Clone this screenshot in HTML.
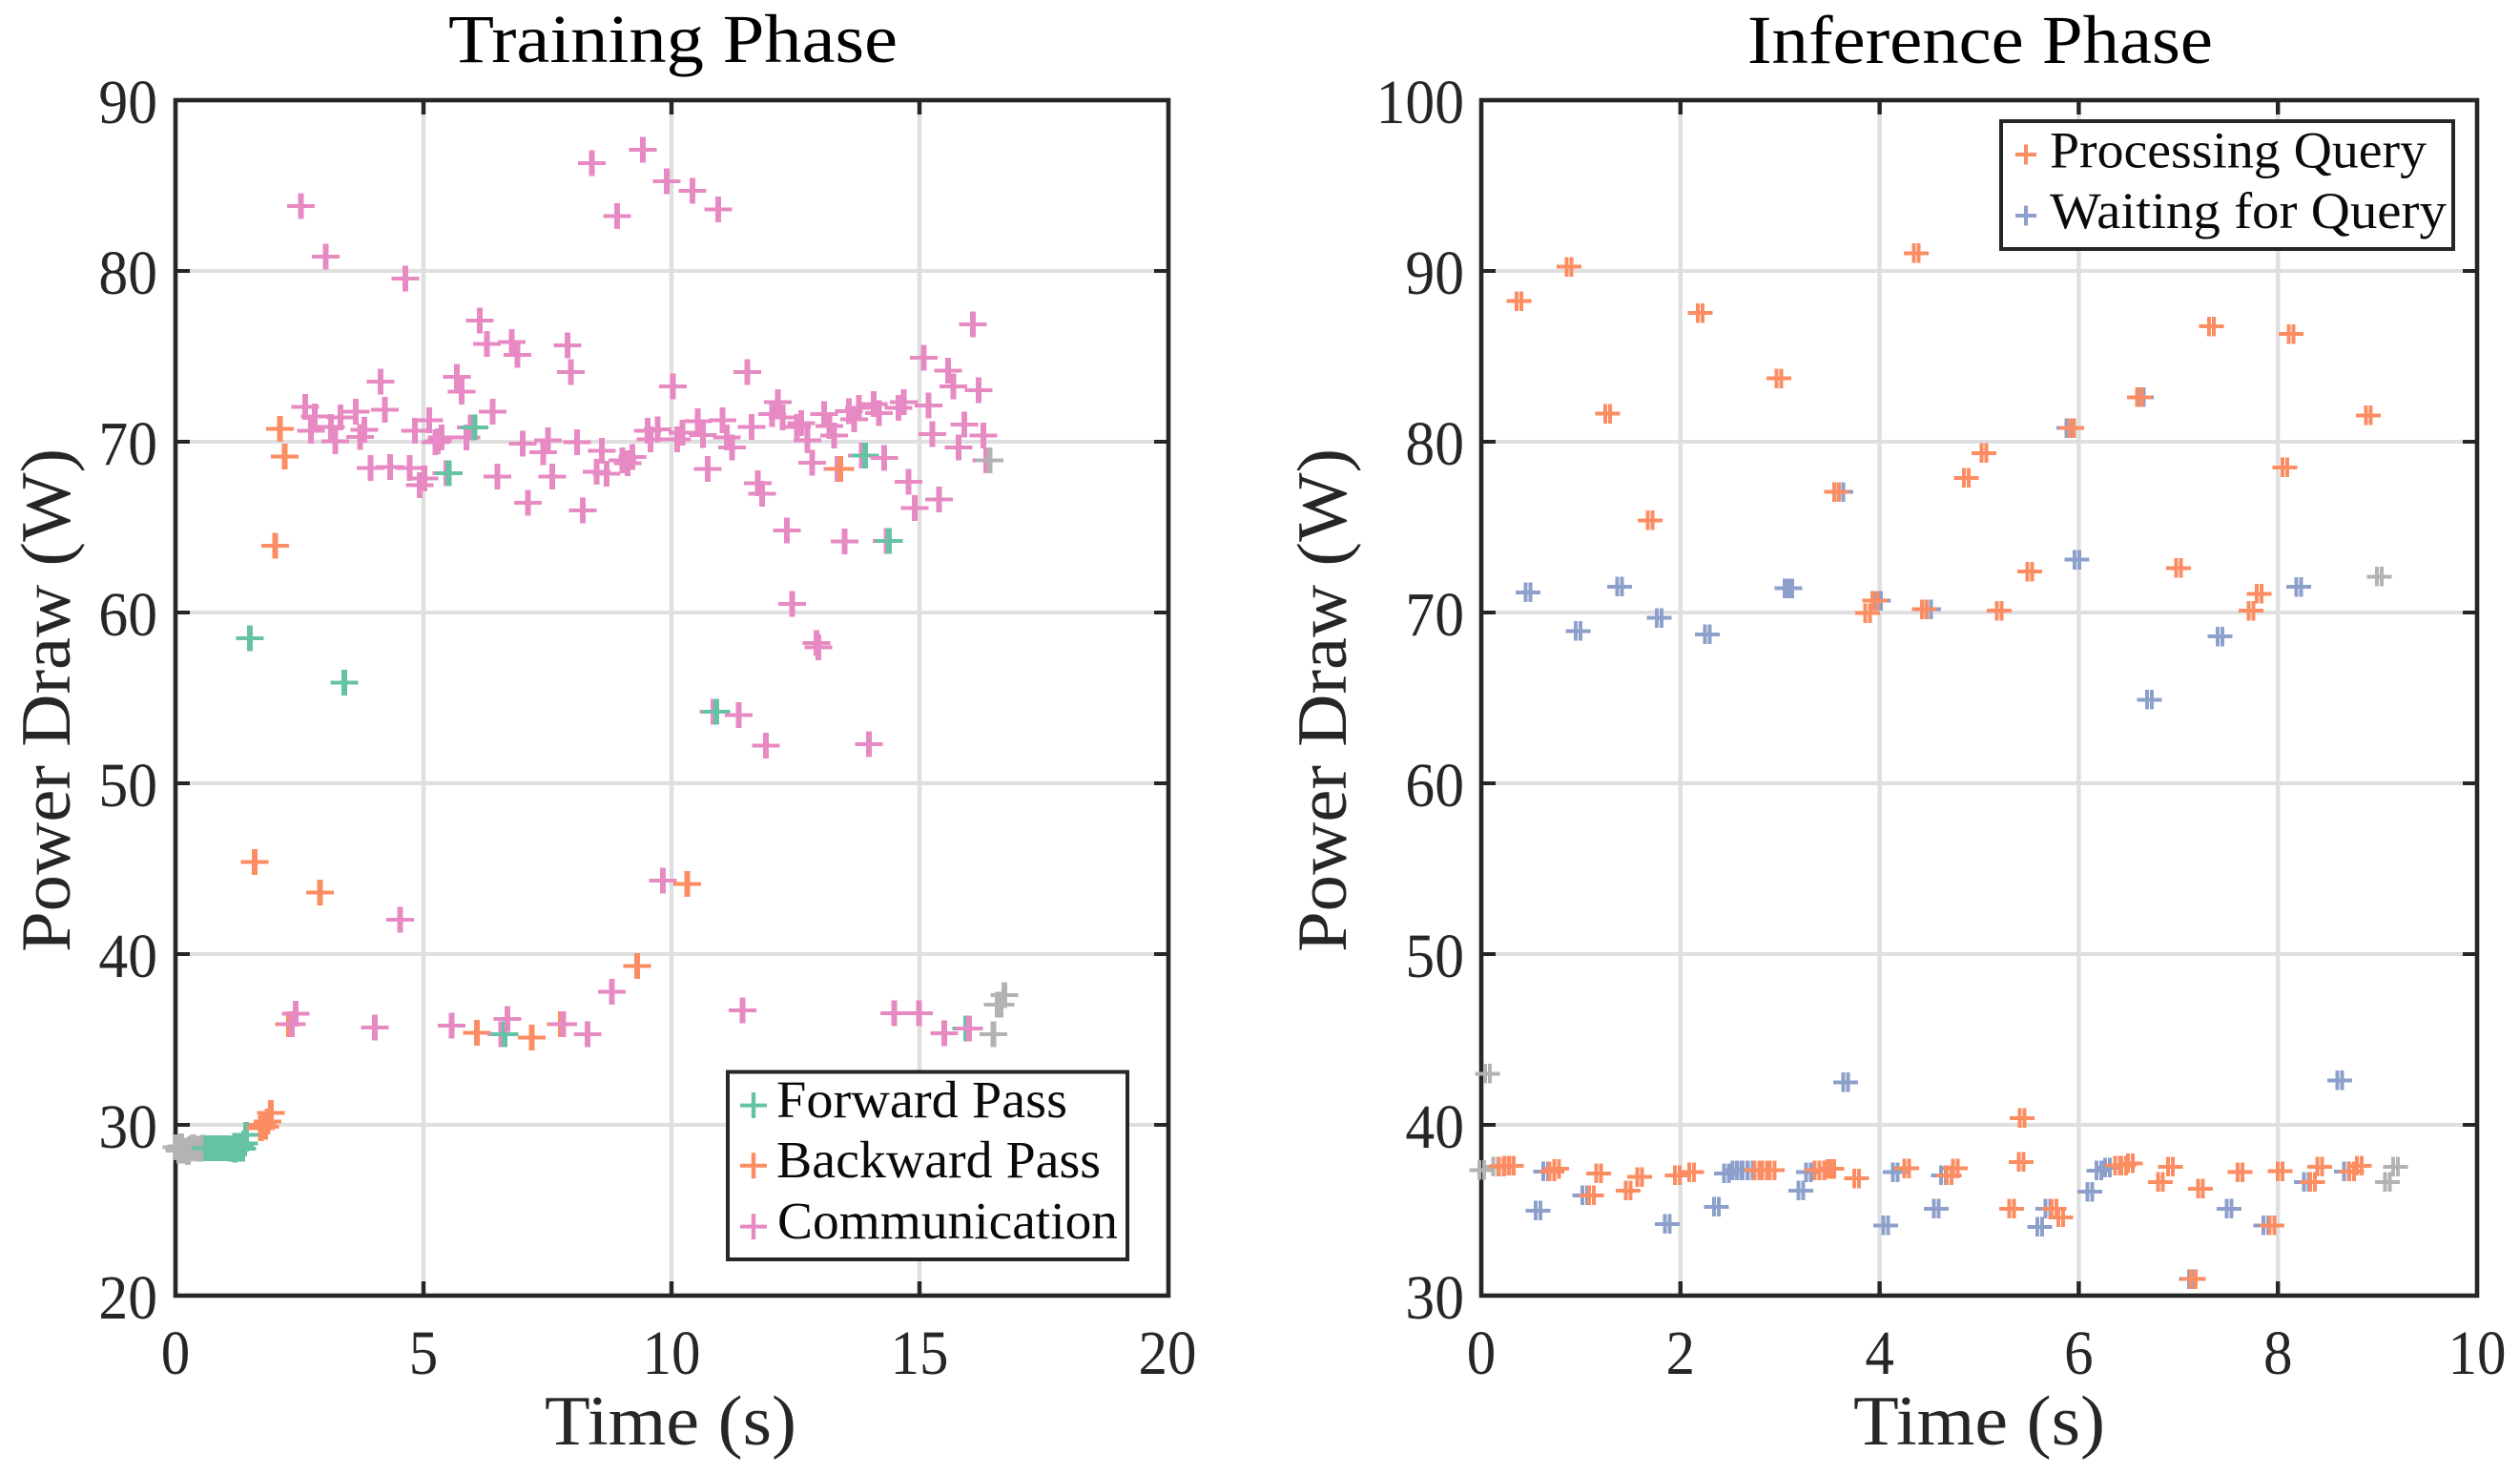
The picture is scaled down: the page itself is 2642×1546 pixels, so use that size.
<!DOCTYPE html>
<html lang="en">
<head>
<meta charset="utf-8">
<title>Power Draw: Training and Inference</title>
<style>
html,body{margin:0;padding:0;background:#fff;}
svg{display:block;}
text{font-family:"Liberation Serif",serif;}
</style>
</head>
<body>
<svg id="fig" xmlns="http://www.w3.org/2000/svg" width="2642" height="1546" viewBox="0 0 2642 1546">
  <rect x="0" y="0" width="2642" height="1546" fill="#fff"/>
  <g id="left-grid"></g>
  <g id="right-grid"></g>
  <rect x="184" y="105" width="1041" height="1253" fill="none" stroke="#262626" stroke-width="4.6"/>
  <rect x="1553" y="105" width="1044" height="1253" fill="none" stroke="#262626" stroke-width="4.6"/>
  <g id="left-ticks"></g>
  <g id="right-ticks"></g>
  <g id="left-marks"></g>
  <g id="right-marks"></g>

  <text x="470" y="65" font-size="72" fill="#000" textLength="471" lengthAdjust="spacingAndGlyphs">Training Phase</text>
  <text x="1832" y="66" font-size="72" fill="#000" textLength="488" lengthAdjust="spacingAndGlyphs">Inference Phase</text>
  <text x="571" y="1514" font-size="74" fill="#262626" textLength="264" lengthAdjust="spacingAndGlyphs">Time (s)</text>
  <text x="1943" y="1514" font-size="74" fill="#262626" textLength="264" lengthAdjust="spacingAndGlyphs">Time (s)</text>
  <text transform="translate(73,998) rotate(-90)" x="0" y="0" font-size="74" fill="#262626" textLength="528" lengthAdjust="spacingAndGlyphs">Power Draw (W)</text>
  <text transform="translate(1411,998) rotate(-90)" x="0" y="0" font-size="74" fill="#262626" textLength="528" lengthAdjust="spacingAndGlyphs">Power Draw (W)</text>

  <g>
    <rect x="763" y="1123.5" width="419" height="196.5" fill="#fff" stroke="#262626" stroke-width="4"/>
    <path fill="#66c2a5" d="M776 1156.6h28v4h-28zM787.8 1145h4.4v27h-4.4z"/>
    <path fill="#fc8d62" d="M776 1219.8h28v4h-28zM787.8 1208.3h4.4v27h-4.4z"/>
    <path fill="#e78ac3" d="M776 1283.6h28v4h-28zM787.8 1272.1h4.4v27h-4.4z"/>
    <text x="814" y="1171" font-size="55" fill="#0a0a0a" textLength="305" lengthAdjust="spacingAndGlyphs">Forward Pass</text>
    <text x="814" y="1234" font-size="55" fill="#0a0a0a" textLength="340" lengthAdjust="spacingAndGlyphs">Backward Pass</text>
    <text x="815" y="1298" font-size="55" fill="#0a0a0a" textLength="357" lengthAdjust="spacingAndGlyphs">Communication</text>
  </g>
  <g>
    <rect x="2098" y="127" width="474" height="134" fill="#fff" stroke="#262626" stroke-width="4"/>
    <path fill="#fc8d62" d="M2113 160h22v4h-22zM2122 151.5h4v21h-4z"/>
    <path fill="#8da0cb" d="M2113 224h22v4h-22zM2122 215.5h4v21h-4z"/>
    <text x="2149" y="175.5" font-size="54" fill="#0a0a0a" textLength="395" lengthAdjust="spacingAndGlyphs">Processing Query</text>
    <text x="2149" y="239" font-size="54" fill="#0a0a0a" textLength="416" lengthAdjust="spacingAndGlyphs">Waiting for Query</text>
  </g>
</svg>
<script>
// Axis tick labels
const trainXTicks = [0, 5, 10, 15, 20];
const trainYTicks = [20, 30, 40, 50, 60, 70, 80, 90];
const inferXTicks = [0, 2, 4, 6, 8, 10];
const inferYTicks = [30, 40, 50, 60, 70, 80, 90, 100];

// Training phase: Forward Pass
const trainForwardT = [0.62,0.68,0.75,0.82,0.88,0.95,1.0,1.05,1.1,1.15,1.2,1.25,1.3,1.35,1.38,1.42,1.5,3.4,5.51,6.03,6.63,10.9,13.9,14.38,15.94];
const trainForwardP = [28.62,28.62,28.62,28.62,28.62,28.62,28.62,28.62,28.6,28.6,28.55,28.6,28.73,28.6,28.9,29.4,58.5,55.9,68.17,70.85,35.3,54.2,69.2,64.2,35.65];

// Training phase: Backward Pass
const trainBackwardT = [1.6,1.72,1.75,1.81,1.86,1.92,2.01,2.11,2.2,2.29,2.91,6.08,7.18,7.77,9.31,10.32,13.4];
const trainBackwardP = [45.4,29.8,30.0,29.9,30.2,30.7,63.9,70.75,69.13,35.9,43.6,35.4,35.1,35.9,39.3,44.1,68.4];

// Training phase: Communication
const trainCommT = [2.53,3.03,4.63,8.39,9.42,8.9,9.9,10.42,10.94,2.62,2.81,2.73,3.13,3.33,3.22,3.63,4.13,4.22,3.81,3.72,3.93,4.33,4.72,4.83,5.12,5.02,4.92,5.29,5.37,5.24,5.67,5.77,5.95,5.87,5.46,6.28,6.78,6.89,6.13,7.9,7.97,6.39,7.0,7.51,7.41,8.1,6.49,7.6,7.11,8.21,8.6,8.49,8.69,9.01,9.21,9.12,9.52,9.72,9.58,10.03,10.12,10.22,10.53,10.63,11.03,11.12,11.22,11.53,11.62,10.73,11.74,11.83,12.14,12.03,12.24,12.62,12.53,12.74,12.84,13.08,13.18,13.28,13.58,13.78,13.68,14.08,14.18,14.68,14.58,15.18,15.09,15.58,15.68,16.19,16.08,15.26,15.9,16.29,15.79,14.29,14.78,14.9,15.39,12.33,13.35,13.84,16.35,13.49,14.34,12.43,12.92,12.96,10.85,11.36,11.9,13.98,4.53,9.83,2.42,2.35,4.02,5.57,6.69,6.57,7.82,8.31,8.8,11.43,14.49,14.99,15.5,16.0];
const trainCommP = [83.8,80.84,79.55,86.3,87.1,83.2,85.25,84.7,83.6,72.03,71.49,70.65,70.86,71.43,70.02,71.75,73.52,71.86,70.69,70.28,68.45,68.51,68.45,70.65,71.25,67.84,67.45,70.02,70.26,69.98,73.8,72.94,70.84,70.24,68.17,75.73,75.83,75.08,77.1,75.64,74.08,71.75,69.9,70.07,69.38,69.96,67.95,67.95,66.42,65.98,69.48,68.25,68.12,68.92,69.1,68.73,70.65,70.74,70.13,73.24,70.13,70.54,71.19,70.39,71.25,70.26,69.66,74.08,70.86,68.4,67.56,66.96,72.31,71.62,71.42,71.1,70.87,70.07,68.77,71.62,70.91,70.35,71.8,71.99,71.3,72.21,71.67,72.31,71.99,72.12,74.91,74.17,73.24,73.03,76.87,70.45,71.0,70.35,69.66,69.05,67.65,66.11,66.61,64.8,68.4,69.2,68.92,64.15,64.2,60.5,58.2,57.95,54.2,54.0,52.2,52.3,42,44.3,36.5,35.9,35.7,35.8,36.2,35.3,35.9,35.3,37.8,36.7,36.55,36.55,35.36,35.65];

// Training phase: other (idle) samples, not in the legend
const trainOtherT = [0.02,0.08,0.12,0.18,0.25,0.3,0.36,0.42,0.5,0.55,16.41,16.49,16.58,16.63,16.71];
const trainOtherP = [28.7,28.5,28.75,28.5,28.4,28.6,28.7,28.6,28.6,28.65,68.92,35.3,37.05,37.05,37.6];

// Inference phase: Processing Query
const inferProcT = [0.88,0.377,4.37,2.2,2.99,1.27,1.695,3.57,5.05,4.87,3.95,3.88,4.45,7.33,8.13,6.61,5.93,8.91,8.07,7.0,5.51,7.73,7.81,5.2,5.43,0.2,0.26,0.3,0.71,0.757,1.18,1.105,1.475,1.59,1.967,2.11,2.77,2.845,2.92,3.37,3.42,3.5,3.52,3.77,4.27,4.70,4.76,5.42,5.325,5.75,5.82,6.39,6.45,6.52,6.92,6.82,7.22,7.62,8.02,7.94,7.15,8.35,8.42,8.74,8.815];
const inferProcP = [90.24,88.23,91.04,87.53,83.71,81.64,75.4,77.06,79.33,77.88,70.69,69.97,70.19,86.75,86.3,82.6,80.8,81.55,78.5,72.6,72.4,70.1,71.1,70.1,40.4,37.56,37.6,37.6,37.27,37.43,37.16,35.87,36.15,36.95,37.04,37.23,37.34,37.34,37.34,37.34,37.34,37.43,37.43,36.86,37.45,37.04,37.45,37.83,35.09,35.09,34.59,37.62,37.62,37.75,37.55,36.65,36.26,37.23,37.29,34.12,30.97,36.65,37.55,37.27,37.6];

// Inference phase: Waiting for Query
const inferWaitT = [0.47,1.39,0.97,1.785,2.27,3.07,3.1,3.61,3.99,4.49,5.98,6.71,7.42,8.21,3.66,8.62,5.9,6.63,0.645,0.57,1.04,1.868,2.36,2.46,2.55,2.59,2.65,2.70,3.286,3.21,4.06,4.155,4.57,4.64,5.69,5.61,6.11,6.2,6.29,7.51,7.88,7.13,8.285,8.69];
const inferWaitP = [71.18,71.51,68.92,69.68,68.72,71.42,71.42,77.06,70.69,70.19,73.1,64.9,68.6,71.5,42.5,42.6,80.8,82.6,37.27,34.98,35.87,34.2,35.2,37.16,37.34,37.34,37.34,37.34,37.23,36.15,34.12,37.23,35.09,37.04,35.09,34.03,36.08,37.32,37.5,35.09,34.12,30.97,36.65,37.27];

// Inference phase: other samples, not in the legend
const inferOtherT = [0.003,0.06,0.144,9.02,9.1,9.18];
const inferOtherP = [37.36,43,37.55,72.1,36.65,37.55];

const GREEN = '#66c2a5', ORANGE = '#fc8d62', PINK = '#e78ac3', BLUE = '#8da0cb', GRAY = '#b3b3b3';
const SVGNS = 'http://www.w3.org/2000/svg';

const trainX = t => 184 + (t - 0) * (1040 / 20);
const trainY = p => 1358 - (p - 20) * (1253 / 70);
const inferX = t => 1553 + (t - 0) * (1044 / 10);
const inferY = p => 1358 - (p - 30) * (1253 / 70);

function makeEl(tag, attrs) {
  const el = document.createElementNS(SVGNS, tag);
  for (const k in attrs) el.setAttribute(k, attrs[k]);
  return el;
}

function drawAxes(gridId, tickId, prefix, xTicks, yTicks, xFn, yFn, xL, xR, yT, yB, yLabelRight) {
  const grid = document.getElementById(gridId);
  const ticks = document.getElementById(tickId);
  xTicks.forEach(function (v) {
    const x = xFn(v);
    if (x > xL + 1 && x < xR - 1) {
      const gl = makeEl('line', {x1: x, x2: x, y1: yT, y2: yB, stroke: '#dfdfdf', 'stroke-width': 4.4});
      
      
      grid.appendChild(gl);
      const d = 'M' + x + ' ' + yT + 'v15M' + x + ' ' + yB + 'v-15';
      const tk = makeEl('path', {d: d, stroke: '#262626', 'stroke-width': 4.4, fill: 'none'});
      
      
      ticks.appendChild(tk);
    }
    const s = String(v);
    const tl = makeEl('text', {x: x, y: 1440, 'font-size': 66, fill: '#262626', 'text-anchor': 'middle', textLength: 30.5 * s.length, lengthAdjust: 'spacingAndGlyphs'});
    
    
    tl.textContent = s;
    ticks.appendChild(tl);
  });
  yTicks.forEach(function (v) {
    const y = yFn(v);
    if (y > yT + 1 && y < yB - 1) {
      const gl = makeEl('line', {x1: xL, x2: xR, y1: y, y2: y, stroke: '#dfdfdf', 'stroke-width': 4});
      
      
      grid.appendChild(gl);
      const d = 'M' + xL + ' ' + y + 'h15M' + xR + ' ' + y + 'h-15';
      const tk = makeEl('path', {d: d, stroke: '#262626', 'stroke-width': 4, fill: 'none'});
      
      
      ticks.appendChild(tk);
    }
    const s = String(v);
    const tl = makeEl('text', {x: yLabelRight, y: y + 24, 'font-size': 66, fill: '#262626', 'text-anchor': 'end', textLength: 30.8 * s.length, lengthAdjust: 'spacingAndGlyphs'});
    
    
    tl.textContent = s;
    ticks.appendChild(tl);
  });
}

function plusPath(cx, cy, w, h, hs, vs, dbl) {
  const hBar = 'M' + (cx - w / 2) + ' ' + (cy - hs / 2) + 'h' + w + 'v' + hs + 'h' + (-w) + 'z';
  if (dbl) {
    return hBar +
      'M' + (cx - vs - 0.5) + ' ' + (cy - h / 2) + 'h' + vs + 'v' + h + 'h' + (-vs) + 'z' +
      'M' + (cx + 0.5) + ' ' + (cy - h / 2) + 'h' + vs + 'v' + h + 'h' + (-vs) + 'z';
  }
  return hBar + 'M' + (cx - vs / 2) + ' ' + (cy - h / 2) + 'h' + vs + 'v' + h + 'h' + (-vs) + 'z';
}

function drawMarks(groupId, seriesList, xFn, yFn, style) {
  const g = document.getElementById(groupId);
  let all = [];
  seriesList.forEach(function (s, order) {
    s.t.forEach(function (tv, i) {
      all.push({t: tv, p: s.p[i], color: s.color, name: s.name, order: order});
    });
  });
  // Training marks stack in time order; inference marks stack by series.
  all.sort(function (a, b) {
    return style.byTime ? a.t - b.t : (a.order - b.order || a.t - b.t);
  });
  all.forEach(function (m) {
    const path = makeEl('path', {
      d: plusPath(xFn(m.t), yFn(m.p), style.w, style.h, style.hs, style.vs, style.dbl),
      fill: m.color,
      'shape-rendering': 'crispEdges'
    });
    
    
    g.appendChild(path);
  });
}

drawAxes('left-grid', 'left-ticks', 'training', trainXTicks, trainYTicks, trainX, trainY, 184, 1225, 105, 1358, 165);
drawAxes('right-grid', 'right-ticks', 'inference', inferXTicks, inferYTicks, inferX, inferY, 1553, 2597, 105, 1358, 1535);

drawMarks('left-marks', [
  {t: trainCommT, p: trainCommP, color: PINK, name: 'communication-point'},
  {t: trainBackwardT, p: trainBackwardP, color: ORANGE, name: 'backward-pass-point'},
  {t: trainForwardT, p: trainForwardP, color: GREEN, name: 'forward-pass-point'},
  {t: trainOtherT, p: trainOtherP, color: GRAY, name: 'training-other-point'}
], trainX, trainY, {w: 29, h: 27, hs: 4, vs: 6, dbl: false, byTime: true});

drawMarks('right-marks', [
  {t: inferOtherT, p: inferOtherP, color: GRAY, name: 'inference-other-point'},
  {t: inferWaitT, p: inferWaitP, color: BLUE, name: 'waiting-for-query-point'},
  {t: inferProcT, p: inferProcP, color: ORANGE, name: 'processing-query-point'}
], inferX, inferY, {w: 26, h: 20.5, hs: 4, vs: 4, dbl: true, byTime: false});
</script>
</body>
</html>
